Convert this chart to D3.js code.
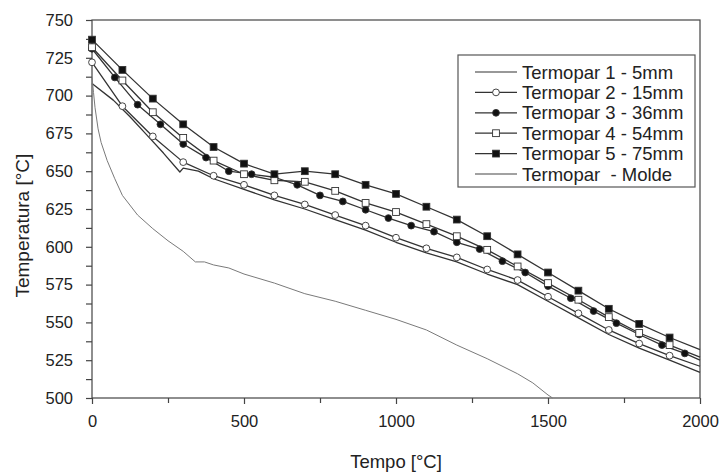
<!DOCTYPE html>
<html lang="en">
<head>
    <meta charset="UTF-8">
    <title>Temperatura x Tempo</title>
    <script src="https://d3js.org/d3.v7.min.js"></script>
    <style>
        body { margin: 0; background: #fff; }
        svg { display: block; font-family: "Liberation Sans", Arial, sans-serif; }
        .tick text { fill: #222; }
        .legend text { white-space: pre; }
    </style>
</head>
<body>

<svg width="721" height="472"></svg>

<script>
    // time steps where markers sit (every 100) and the T3 steps (every 75)
    const time100 = [0, 100, 200, 300, 400, 500, 600, 700, 800, 900, 1000,
                     1100, 1200, 1300, 1400, 1500, 1600, 1700, 1800, 1900, 2000];
    const time75 = [0, 75, 150, 225, 300, 375, 450, 525, 600, 675, 750, 825, 900, 975,
                    1050, 1125, 1200, 1275, 1350, 1425, 1500, 1575, 1650, 1725, 1800,
                    1875, 1950, 2000];

    const t1Time = [0, 70, 125, 180, 235, 289, 300, 350, 400, 500, 600, 700, 800, 900, 1000,
                    1100, 1200, 1300, 1400, 1500, 1600, 1700, 1800, 1900, 2000];
    const t1Temp = [708, 697, 686, 674, 662, 649.5, 652, 650, 645, 638, 631, 625, 618, 611, 603,
                    596, 590, 582, 575, 564, 553, 542, 533, 525, 517];

    const t2Temp = [722, 693, 673, 656, 647, 641, 634, 628, 621, 614, 606,
                    599, 593, 585, 578, 567, 556, 545, 536, 528, 521];
    const t3Temp = [731, 712, 694, 681, 668, 659, 650, 648, 646, 641, 634, 630, 624.5, 619,
                    614, 610, 603, 598.5, 590.5, 583, 574, 566, 557.5, 549.5, 542,
                    535, 529.5, 525];
    const t4Temp = [732, 710, 689, 672, 657, 648, 644, 643, 637, 629, 623,
                    615, 607, 598, 587, 576, 565, 553.5, 543, 535, 527];
    const t5Temp = [737, 717, 698, 681, 666, 655, 648, 650, 648, 641, 635,
                    626.5, 618, 607, 595, 583, 571, 559, 549, 540, 532];

    const moldeTime = [0, 5, 10, 20, 30, 50, 75, 100, 150, 200, 250, 300, 340, 370, 400, 450,
                       500, 600, 700, 800, 900, 1000, 1100, 1200, 1300, 1400, 1450, 1500, 1515];
    const moldeTemp = [712, 702, 692, 678, 669, 657, 645, 634, 621, 612, 604, 597, 590, 590, 588, 586,
                       582, 576, 569, 564, 558, 552, 545, 535, 526, 516, 510, 502, 500];

    const legendLabels = ["Termopar 1 - 5mm", "Termopar 2 - 15mm", "Termopar 3 - 36mm",
                          "Termopar 4 - 54mm", "Termopar 5 - 75mm", "Termopar  - Molde"];

    const xTicks = [0, 500, 1000, 1500, 2000];
    const xMinor = [250, 750, 1250, 1750];
    const yTicks = [500, 525, 550, 575, 600, 625, 650, 675, 700, 725, 750];

    const zip = (xs, ys) => xs.map((x, i) => ({x: x, y: ys[i]}));

    const series = [
        {name: legendLabels[0], data: zip(t1Time, t1Temp), marker: null, color: "#333", width: 1.3},
        {name: legendLabels[1], data: zip(time100, t2Temp), marker: "circleOpen", color: "#333", width: 1.3},
        {name: legendLabels[2], data: zip(time75, t3Temp), marker: "circleFilled", color: "#333", width: 1.3},
        {name: legendLabels[3], data: zip(time100, t4Temp), marker: "squareOpen", color: "#333", width: 1.3},
        {name: legendLabels[4], data: zip(time100, t5Temp), marker: "squareFilled", color: "#333", width: 1.3},
        {name: legendLabels[5], data: zip(moldeTime, moldeTemp), marker: null, color: "#7a7a7a", width: 1}
    ];

    const svg = d3.select("svg");
    const margin = {left: 92, right: 21, top: 20, bottom: 74};
    const width = 721, height = 472;

    const x = d3.scaleLinear().domain([0, 2000]).range([margin.left, width - margin.right]);
    const y = d3.scaleLinear().domain([500, 750]).range([height - margin.bottom, margin.top]);

    // frame
    svg.append("rect")
        .attr("x", x(0)).attr("y", y(750))
        .attr("width", x(2000) - x(0)).attr("height", y(500) - y(750))
        .attr("fill", "none").attr("stroke", "#444").attr("stroke-width", 1.2);

    // axes
    svg.append("g")
        .attr("transform", `translate(0,${y(500)})`)
        .call(d3.axisBottom(x).tickValues(xTicks).tickSize(6).tickPadding(11).tickFormat(d3.format("d")));
    svg.append("g")
        .attr("transform", `translate(0,${y(500)})`)
        .call(d3.axisBottom(x).tickValues(xMinor).tickSize(5).tickFormat(""));

    svg.append("g")
        .attr("transform", `translate(${x(0)},0)`)
        .call(d3.axisLeft(y).tickValues(yTicks).tickSize(6).tickPadding(13).tickFormat(d3.format("d")));
    svg.append("g")
        .attr("transform", `translate(${x(0)},0)`)
        .call(d3.axisLeft(y).tickValues(yTicks.slice(1).map(v => v - 12.5)).tickSize(6).tickFormat(""));

    svg.selectAll(".domain").remove();
    svg.selectAll(".tick line").attr("stroke", "#444").attr("stroke-width", 1.2);
    svg.selectAll(".tick text").style("font-size", "16.5px").style("font-family", "'Liberation Sans', Arial, sans-serif");

    // axis titles
    svg.append("text")
        .attr("x", x(1000)).attr("y", 468)
        .attr("text-anchor", "middle")
        .style("font-size", "18.5px").attr("fill", "#222")
        .text("Tempo [°C]");
    svg.append("text")
        .attr("transform", `translate(29,${y(614)}) rotate(-90)`)
        .attr("text-anchor", "middle")
        .style("font-size", "19px").attr("fill", "#222")
        .text("Temperatura [°C]");

    // lines
    const line = d3.line().x(d => x(d.x)).y(d => y(d.y));
    const plot = svg.append("g");

    series.forEach(s => {
        plot.append("path")
            .datum(s.data)
            .attr("d", line)
            .attr("fill", "none")
            .attr("stroke", s.color)
            .attr("stroke-width", s.width)
            .attr("stroke-linejoin", "round");
    });

    function drawMarker(g, type, cx, cy) {
        if (type === "circleOpen" || type === "circleFilled") {
            g.append("circle")
                .attr("cx", cx).attr("cy", cy).attr("r", 3.4)
                .attr("fill", type === "circleOpen" ? "#fff" : "#111")
                .attr("stroke", "#333").attr("stroke-width", 0.9);
        } else if (type === "squareOpen" || type === "squareFilled") {
            g.append("rect")
                .attr("x", cx - 3.4).attr("y", cy - 3.4)
                .attr("width", 6.8).attr("height", 6.8)
                .attr("fill", type === "squareOpen" ? "#fff" : "#111")
                .attr("stroke", "#333").attr("stroke-width", 0.9);
        }
    }

    series.filter(s => s.marker).forEach(s => {
        const g = plot.append("g");
        s.data.filter(d => d.x < 2000).forEach(d => drawMarker(g, s.marker, x(d.x), y(d.y)));
    });

    // legend
    const legend = svg.append("g").attr("class", "legend").attr("transform", "translate(458,55)");
    legend.append("rect")
        .attr("width", 237).attr("height", 132)
        .attr("fill", "#fff").attr("stroke", "#555").attr("stroke-width", 1.2);

    series.forEach((s, i) => {
        const ly = 17 + i * 20.4;
        legend.append("line")
            .attr("x1", 17).attr("x2", 59)
            .attr("y1", ly).attr("y2", ly)
            .attr("stroke", i === 5 ? "#444" : s.color).attr("stroke-width", 1.2);
        if (s.marker) drawMarker(legend, s.marker, 38, ly);
        legend.append("text")
            .attr("x", 64).attr("y", ly + 6.5)
            .style("font-size", "18.5px").attr("fill", "#222")
            .text(s.name);
    });
</script>

</body>
</html>
